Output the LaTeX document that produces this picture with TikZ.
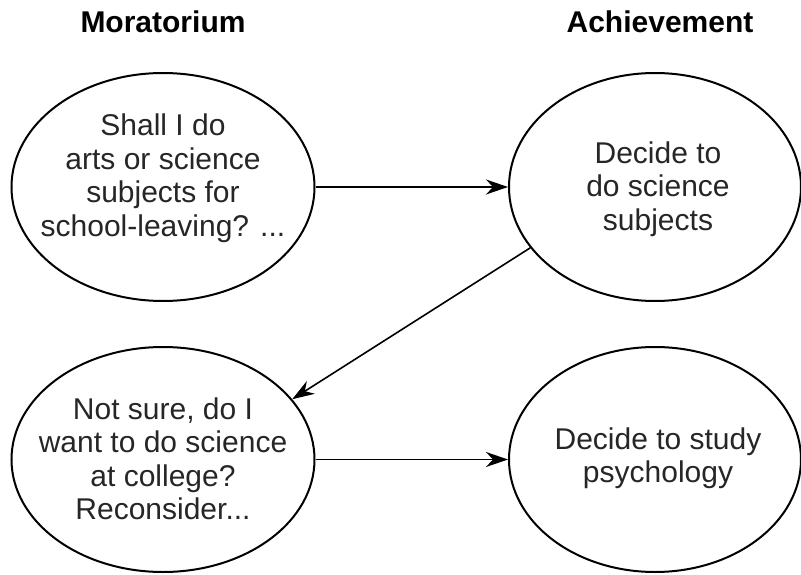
\documentclass[tikz,border=0pt]{standalone}
\usepackage{fontspec}
\setmainfont{Liberation Sans}
\usetikzlibrary{shapes.geometric,arrows.meta}
\tikzset{
  bubble/.style={draw=black, line width=2pt, ellipse, inner sep=0pt, minimum width=#1},
  bubble/.default=303pt,
  bubbletext/.style={align=center, inner sep=0pt, text=black!85, font=\fontsize{30}{33.5}\selectfont},
  header/.style={anchor=base, inner sep=0pt, font=\fontsize{30}{36}\selectfont\bfseries},
  conn/.style={line width=1.6pt, -{Stealth[length=22pt, width=15pt, inset=7pt]}}
}
\begin{document}
\begin{tikzpicture}[x=1pt,y=-1pt]
\useasboundingbox (0,0) rectangle (801,575);
\node[header] (hm) at (163,33) {Moratorium};
\node[header] (ha) at (660,33) {Achievement};

\node[bubble=303pt, minimum height=228pt] (tl) at (163,187) {};
\node[bubble=292pt, minimum height=228pt] (tr) at (655,187) {};
\node[bubble=303pt, minimum height=225pt] (bl) at (163,459.5) {};
\node[bubble=292pt, minimum height=225pt] (br) at (655,459.5) {};

\node[bubbletext] (tlt) at (163,178) {Shall I do\\arts or science\\subjects for\\school-leaving? ...};
\node[bubbletext] (trt) at (658,189) {Decide to\\do science\\subjects};
\node[bubbletext] (blt) at (163,459) {Not sure, do I\\want to do science\\at college?\\Reconsider...};
\node[bubbletext] (brt) at (658,458) {Decide to study\\psychology};

\draw[conn] (tl.east) -- (tr.west);
\draw[conn] (tr.206) -- (bl.25);
\draw[conn] (bl.east) -- (br.west);
\end{tikzpicture}
\end{document}
